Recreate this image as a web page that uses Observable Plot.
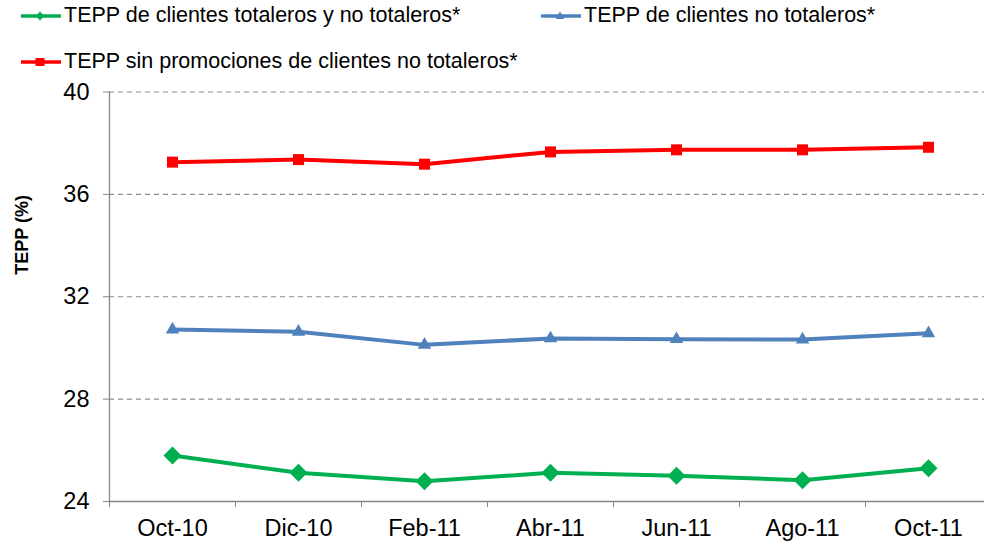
<!DOCTYPE html>
<html>
<head>
<meta charset="utf-8">
<script src="https://cdn.jsdelivr.net/npm/d3@7"></script>
<script src="https://cdn.jsdelivr.net/npm/@observablehq/plot@0.6"></script>
<style>
  html, body { margin: 0; padding: 0; background: #fff; }
  body { width: 984px; height: 544px; overflow: hidden; font-family: "Liberation Sans", Arial, sans-serif; }
  #legend { position: relative; height: 80px; width: 984px; }
  .item { position: absolute; display: flex; align-items: center; font-size: 21.5px; color: #000; white-space: nowrap; }
  .item svg { display: block; margin-right: 2px; }
  #chart g[aria-label="x-axis tick label"] text, #chart g[aria-label="y-axis tick label"] text { font-size: 23.5px; }
</style>
</head>
<body>
<div id="legend"></div>
<div id="chart"></div>
<script>
const categories = ["Oct-10", "Dic-10", "Feb-11", "Abr-11", "Jun-11", "Ago-11", "Oct-11"];
const totalerosYNo = [25.80, 25.12, 24.79, 25.12, 25.01, 24.83, 25.30];
const noTotaleros = [30.72, 30.63, 30.12, 30.37, 30.34, 30.33, 30.57];
const sinPromociones = [37.26, 37.36, 37.18, 37.66, 37.74, 37.74, 37.84];
const yTicks = [24, 28, 32, 36, 40];
const seriesNames = [
  "TEPP de clientes totaleros y no totaleros*",
  "TEPP de clientes no totaleros*",
  "TEPP sin promociones de clientes no totaleros*"
];
const colors = ["#00B050", "#4F81BD", "#FF0000"];
const symbols = ["diamond2", "triangle", "square"];
const markerR = [8.1, 5.0, 6.2];
const yLabel = "TEPP (%)";

const seriesValues = [totalerosYNo, noTotaleros, sinPromociones];
const rows = [];
seriesValues.forEach((vals, s) => vals.forEach((v, i) => rows.push({i, v, s})));
const idx = categories.map((_, i) => i);
const bounds = d3.range(-0.5, categories.length, 1);

// legend
const legendPos = [{left: 20, top: 3}, {left: 540, top: 3}, {left: 20, top: 49}];
const legend = document.getElementById("legend");
const swatchShapes = [
  `<path d="M20,0.5 L24.5,5 L20,9.5 L15.5,5 Z" fill="${colors[0]}"/>`,
  `<path d="M20,0.5 L24.5,8 L15.5,8 Z" fill="${colors[1]}"/>`,
  `<rect x="15.5" y="1" width="9" height="8" fill="${colors[2]}"/>`
];
[0, 1, 2].forEach(s => {
  const d = document.createElement("div");
  d.className = "item";
  d.style.left = legendPos[s].left + "px";
  d.style.top = legendPos[s].top + "px";
  d.innerHTML = `<svg width="42" height="10"><line x1="1" x2="41" y1="5" y2="5" stroke="${colors[s]}" stroke-width="3.5"/>${swatchShapes[s]}</svg><span>${seriesNames[s]}</span>`;
  legend.appendChild(d);
});

const gray = "#868686";
const order = [2, 1, 0];
const chart = Plot.plot({
  width: 984,
  height: 464,
  marginLeft: 109,
  marginRight: 0,
  marginTop: 11.5,
  marginBottom: 43,
  style: {fontFamily: "'Liberation Sans', Arial, sans-serif", fontSize: "23.5px", color: "#000", background: "#fff"},
  x: {domain: [-0.5, categories.length - 0.5], range: [109, 991]},
  y: {domain: [24, 40]},
  marks: [
    Plot.gridY(yTicks.filter(t => t > 24), {stroke: "#8c8c8c", strokeOpacity: 1, strokeWidth: 1.1, strokeDasharray: "5,4"}),
    Plot.ruleY([24], {stroke: gray, strokeWidth: 1.3, x1: -0.5, x2: categories.length - 0.5}),
    Plot.ruleX([-0.5], {stroke: gray, strokeWidth: 1.3}),
    Plot.axisY({ticks: yTicks, tickSize: 6, tickPadding: 14, stroke: gray, label: null, fontSize: 23.5}),
    Plot.axisX({ticks: bounds, tickSize: 6, tickFormat: () => "", stroke: gray, label: null}),
    Plot.axisX({ticks: idx, tickSize: 0, tickPadding: 18, tickFormat: i => categories[i], label: null, fontSize: 23.5}),
    Plot.text([yLabel], {frameAnchor: "left", dx: -87, dy: -22, rotate: -90, fontWeight: "bold", fontSize: 18, fill: "#000"}),
    ...order.map(s => Plot.line(rows.filter(r => r.s === s), {x: "i", y: "v", stroke: colors[s], strokeWidth: 4})),
    ...order.map(s => Plot.dot(rows.filter(r => r.s === s), {x: "i", y: "v", fill: colors[s], stroke: "none", symbol: symbols[s], r: markerR[s]}))
  ]
});
document.getElementById("chart").appendChild(chart);
</script>
</body>
</html>
